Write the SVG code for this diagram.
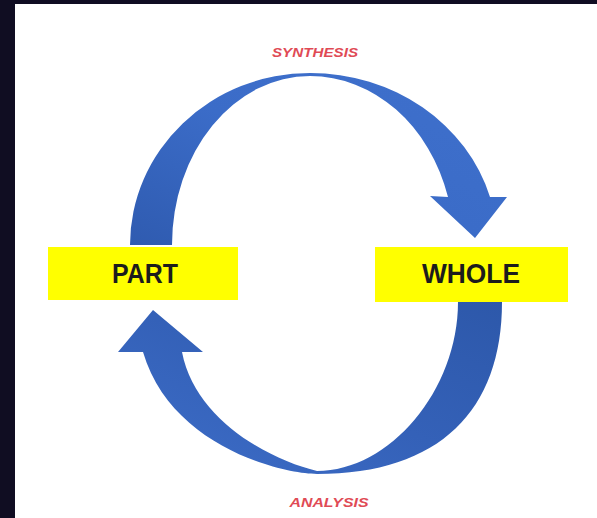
<svg xmlns="http://www.w3.org/2000/svg" width="597" height="518" viewBox="0 0 597 518">
<defs>
<style>
.box{fill:#ffff00}
.lbl{font-family:"Liberation Sans",Arial,sans-serif;font-weight:bold;font-size:27px;fill:#1c1c1c;text-anchor:middle}
.cap{font-family:"Liberation Sans",Arial,sans-serif;font-weight:bold;font-style:italic;font-size:13px;fill:#e04a55;text-anchor:middle}
</style>
<linearGradient id="gTop" x1="0" y1="1" x2="1" y2="0">
<stop offset="0" stop-color="#2f5bb0"/>
<stop offset="0.5" stop-color="#3b6cc8"/>
<stop offset="1" stop-color="#3f70cc"/>
</linearGradient>
<linearGradient id="gBot" x1="1" y1="0" x2="0" y2="1">
<stop offset="0" stop-color="#2d58aa"/>
<stop offset="0.5" stop-color="#3461b8"/>
<stop offset="1" stop-color="#3d6dc8"/>
</linearGradient>
</defs>
<rect x="0" y="0" width="597" height="518" fill="#ffffff"/>
<rect x="0" y="0" width="15" height="518" fill="#100d22"/>
<rect x="0" y="0" width="597" height="4" fill="#100d22"/>
<g id="connectors">
<path id="synthesis-arrow" fill="url(#gTop)" d="M130,245 A180,172 0 0 1 310,73 A187,172 0 0 1 490,197 L507,197 L475,238 L430,196 L448,197 A144,169 0 0 0 310,76 A138,169 0 0 0 172,245 Z"/>
<path id="analysis-arrow" fill="url(#gBot)" d="M502,302 C502,410 440,474 317,474 C280,474 170,445 143,352 L118,352 L153,310 L203,352 L182,352 C195,420 270,460 317,471 C390,471 458,390 458,302 Z"/>
</g>
<g id="part">
<rect class="box" x="48" y="247" width="190" height="53"/>
<text class="lbl" x="145" y="283" textLength="66" lengthAdjust="spacingAndGlyphs">PART</text>
</g>
<g id="whole">
<rect class="box" x="375" y="247" width="193" height="55"/>
<text class="lbl" x="471" y="283" textLength="98" lengthAdjust="spacingAndGlyphs">WHOLE</text>
</g>
<g id="labels">
<text class="cap" x="315" y="57" textLength="86" lengthAdjust="spacingAndGlyphs">SYNTHESIS</text>
<text class="cap" x="329" y="507" textLength="79" lengthAdjust="spacingAndGlyphs">ANALYSIS</text>
</g>
</svg>
